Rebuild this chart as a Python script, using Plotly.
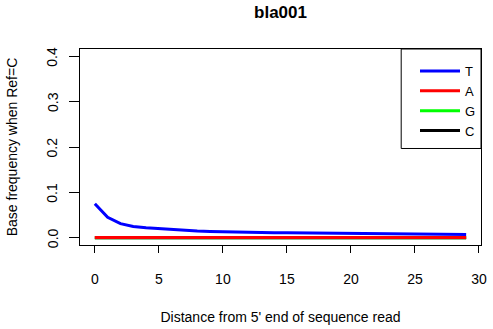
import plotly.graph_objects as go

positions = list(range(30))
freq_T = [0.075, 0.045, 0.031, 0.025, 0.022, 0.020, 0.018, 0.016, 0.0148, 0.0138,
          0.0130, 0.0124, 0.0119, 0.0115, 0.0112, 0.0110, 0.0108, 0.0106, 0.0105, 0.0104,
          0.0103, 0.0100, 0.0097, 0.0094, 0.0090, 0.0086, 0.0082, 0.0078, 0.0074, 0.0070]
freq_A = [0.0008] * 30
freq_G = [0.0] * 30
freq_C = [0.0] * 30

y_tickvals = [0, 0.1, 0.2, 0.3, 0.4]
y_ticktext = ["0.0", "0.1", "0.2", "0.3", "0.4"]
x_tickvals = [0, 5, 10, 15, 20, 25, 30]

series = [("G", freq_G, "#00ff00", 3), ("C", freq_C, "#000000", 4),
          ("A", freq_A, "#ff0000", 2), ("T", freq_T, "#0000ff", 1)]

FONT = "Liberation Sans, Arial, Helvetica, sans-serif"

fig = go.Figure()
for name, vals, color, rank in series:
    fig.add_trace(go.Scatter(x=positions, y=vals, mode="lines", name=name,
                             line=dict(color=color, width=3), legendrank=rank))

# rotated y tick labels (R style)
annotations = [dict(x=(52 - 80) / 407, xref="paper", y=v, yref="y", text=t,
                    textangle=-90, showarrow=False, xanchor="center", yanchor="middle",
                    font=dict(size=14, family=FONT, color="black"))
               for v, t in zip(y_tickvals, y_ticktext)]

fig.update_layout(
    width=493, height=329,
    margin=dict(l=80, r=6, t=49, b=83),
    paper_bgcolor="white", plot_bgcolor="white",
    font=dict(family=FONT, size=14, color="black"),
    title=dict(text="<b>bla001</b>", x=0.5, xanchor="center", xref="paper",
               y=1 - 12 / 329, yanchor="middle", yref="container",
               font=dict(size=17, family=FONT, color="black")),
    showlegend=True,
    legend=dict(x=1, y=1 - 7 / 197, xanchor="right", yanchor="top",
                xref="paper", yref="paper",
                bgcolor="rgba(0,0,0,0)", borderwidth=0,
                font=dict(size=13, family=FONT), tracegroupgap=0, itemwidth=40),
    shapes=[dict(type="rect", xref="paper", yref="paper", x0=(406 - 80) / 407, x1=1,
                 y0=1 - 100 / 197, y1=1, line=dict(color="black", width=1))],
    annotations=annotations,
)
fig.update_xaxes(range=[-1.16, 30.16], tickvals=x_tickvals,
                 ticks="outside", ticklen=7, tickcolor="black", tickwidth=1,
                 ticklabelstandoff=14,
                 showline=True, mirror=True, linecolor="black", linewidth=1,
                 showgrid=False, zeroline=False,
                 title=dict(text="Distance from 5' end of sequence read", standoff=26,
                            font=dict(size=14)),
                 tickfont=dict(size=14))
fig.update_yaxes(range=[-0.016, 0.416], tickvals=y_tickvals, showticklabels=False,
                 ticks="outside", ticklen=10, tickcolor="black", tickwidth=1,
                 showline=True, mirror=True, linecolor="black", linewidth=1,
                 showgrid=False, zeroline=False,
                 title=dict(text="Base frequency when Ref=C", standoff=48,
                            font=dict(size=14)))

fig.write_html("out.html")
